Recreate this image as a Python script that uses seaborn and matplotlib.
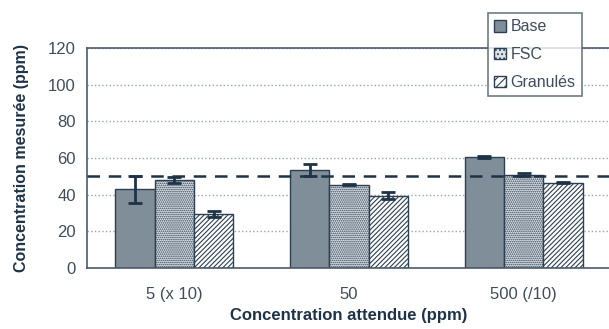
import matplotlib
matplotlib.use("Agg")
import matplotlib.pyplot as plt
import seaborn as sns
import pandas as pd
import numpy as np

# data
groups = ['5 (x 10)', '50', '500 (/10)']
series = ['Base', 'FSC', 'Granulés']
base_vals = [43.0, 53.5, 60.5]
fsc_vals = [48.0, 45.5, 51.0]
gran_vals = [29.5, 39.5, 46.5]
base_err = [7.3, 3.2, 0.4]
fsc_err = [1.5, 0.4, 0.8]
gran_err = [1.5, 2.0, 0.4]
target = 50

navy = '#1f3347'
edge = '#2d4053'
tick_col = '#3f4d5c'

rows = []
for name, vals in zip(series, [base_vals, fsc_vals, gran_vals]):
    for g, v in zip(groups, vals):
        rows.append([g, name, v])
df = pd.DataFrame(rows, columns=['group', 'serie', 'value'])
errs = {'Base': base_err, 'FSC': fsc_err, 'Granulés': gran_err}

sns.set_style('white')
plt.rcParams['font.family'] = ['Liberation Sans', 'DejaVu Sans']
plt.rcParams['hatch.color'] = edge
plt.rcParams['hatch.linewidth'] = 0.8

fig = plt.figure(figsize=(6.09, 3.29), dpi=100)
ax = fig.add_axes([87/609, 61/329, 524/609, 220/329])

pal = {'Base': '#7f8e98', 'FSC': '#dde2e7', 'Granulés': '#ffffff'}
hatches = {'Base': '', 'FSC': '........', 'Granulés': '///////'}
sns.barplot(ax=ax, data=df, x='group', y='value', hue='serie', order=groups,
            hue_order=series, palette=pal, width=0.675, errorbar=None,
            edgecolor=edge, linewidth=1.0, saturation=1, zorder=2)

# hatches + error bars on the bars drawn by seaborn
for cont, name in zip(ax.containers, series):
    for i, bar in enumerate(cont):
        bar.set_hatch(hatches[name])
        cx = bar.get_x() + bar.get_width() / 2
        ax.errorbar(cx, bar.get_height(), yerr=errs[name][i], color=navy,
                    capsize=5, capthick=2, elinewidth=2, zorder=4)

ax.axhline(target, color=navy, lw=1.8, ls=(0, (5, 3.5)), zorder=5, clip_on=False)

ax.set_xlim(-0.5, 2.5)
ax.set_ylim(0, 120)
ax.set_yticks(range(0, 121, 20))
ax.yaxis.grid(True, color='#9aa3ab', ls=':', lw=1.0, zorder=0)
ax.set_axisbelow(True)
ax.set_xticks([0, 1, 2])
ax.set_xticks([-0.5, 0.5, 1.5, 2.5], minor=True)
ax.tick_params(axis='x', which='major', length=0, pad=14, labelsize=12, colors=tick_col)
ax.tick_params(axis='x', which='minor', length=5, color='#8a959e', direction='out')
ax.tick_params(axis='y', length=5, direction='out', labelsize=12, colors=tick_col, pad=3)
ax.tick_params(axis='y', color='#8a959e')

for s in ['left', 'bottom', 'top']:
    ax.spines[s].set_color('#4b5b6b')
    ax.spines[s].set_linewidth(1.2)
ax.spines['right'].set_visible(False)

ax.set_xlabel('Concentration attendue (ppm)', fontsize=12, fontweight='bold', color=navy, labelpad=4)
ax.set_ylabel('Concentration mesurée (ppm)', fontsize=11.5, fontweight='bold', color=navy, labelpad=14)

leg = ax.legend(loc='upper left', bbox_to_anchor=(488/609, 1 - 13/329), bbox_transform=fig.transFigure,
                frameon=True, fancybox=False, fontsize=11.5, handlelength=0.75, handleheight=0.75,
                handletextpad=0.25, borderpad=0.4, labelspacing=0.8, borderaxespad=0)
leg.get_frame().set_edgecolor('#4b5b6b')
leg.get_frame().set_linewidth(1.2)
leg.set_zorder(10)
for h, name in zip(leg.legend_handles, series):
    h.set_hatch(hatches[name][:4])
    h.set_facecolor(pal[name])
    h.set_edgecolor(edge)
for t in leg.get_texts():
    t.set_color(tick_col)

fig.savefig('out.png', dpi=100, facecolor='white')
